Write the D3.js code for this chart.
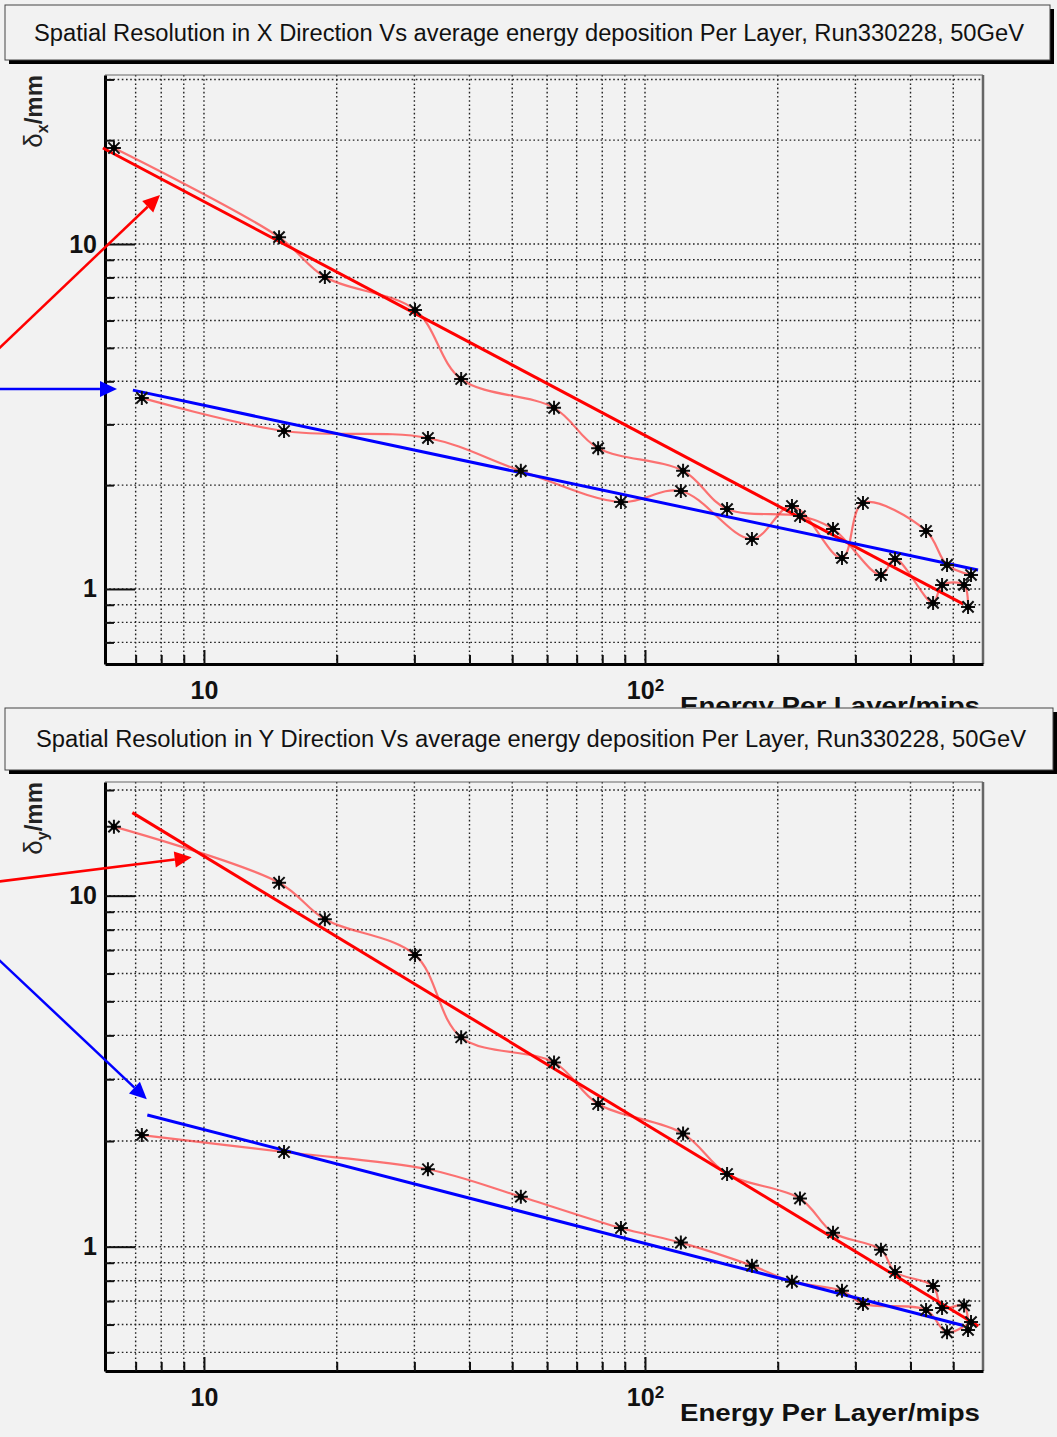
<!DOCTYPE html>
<html>
<head>
<meta charset="utf-8">
<script src="https://cdn.jsdelivr.net/npm/d3@7"></script>
<style>
  body { margin: 0; background: #f2f2f2; }
  svg { display: block; }
</style>
</head>
<body>
<svg id="chart" width="1057" height="1437"></svg>
<script>
// energy per layer (mips) of the two layer groups, same in both panels
var energyUpper = [6.25, 14.8, 18.8, 30.1, 38.3, 62.2, 78.3, 122, 153.5, 224.6, 266.9, 342.8, 368.9, 450, 471.6, 529, 540.1];
var energyLower = [7.23, 15.19, 32.2, 52.3, 88.2, 120.6, 174.8, 215.4, 279.7, 312.1, 433.8, 484, 548.6];

// resolution in X (mm)
var resXUpper = [18.98, 10.47, 8.02, 6.44, 4.06, 3.35, 2.56, 2.20, 1.705, 1.627, 1.493, 1.098, 1.222, 0.911, 1.027, 1.027, 0.887];
var resXLower = [3.58, 2.87, 2.74, 2.20, 1.787, 1.923, 1.396, 1.740, 1.230, 1.775, 1.473, 1.174, 1.098];

// resolution in Y (mm)
var resYUpper = [15.73, 10.89, 8.57, 6.78, 3.95, 3.35, 2.55, 2.10, 1.611, 1.372, 1.096, 0.980, 0.847, 0.773, 0.669, 0.680, 0.579];
var resYLower = [2.08, 1.861, 1.662, 1.388, 1.130, 1.027, 0.883, 0.795, 0.749, 0.687, 0.660, 0.570, 0.610];

// power-law fit lines, end points (energy, resolution)
var fitXRedE = [5.9, 526],  fitXRedR = [18.98, 0.905];
var fitXBlueE = [6.9, 569], fitXBlueR = [3.77, 1.135];
var fitYRedE = [6.88, 570], fitYRedR = [17.24, 0.594];
var fitYBlueE = [7.44, 527], fitYBlueR = [2.372, 0.596];

// annotation arrows (from, to) in data units
var arrowXRedE = [3.4, 7.95],  arrowXRedR = [4.93, 13.87];
var arrowXBlueE = [3.4, 6.35], arrowXBlueR = [3.80, 3.80];
var arrowYRedE = [3.4, 9.38],  arrowYRedR = [10.96, 12.86];
var arrowYBlueE = [3.4, 7.42], arrowYBlueR = [6.63, 2.63];

var xTicks = [7, 8, 9, 10, 20, 30, 40, 50, 60, 70, 80, 90, 100, 200, 300, 400, 500];
var yTicksX = [0.7, 0.8, 0.9, 1, 2, 3, 4, 5, 6, 7, 8, 9, 10, 20, 30];
var yTicksY = [0.5, 0.6, 0.7, 0.8, 0.9, 1, 2, 3, 4, 5, 6, 7, 8, 9, 10, 20];
var xDomain = [5.965, 584];

var titles = [
  "Spatial Resolution in X Direction Vs average energy deposition Per Layer, Run330228, 50GeV",
  "Spatial Resolution in Y Direction Vs average energy deposition Per Layer, Run330228, 50GeV"
];

var svg = d3.select("#chart");
svg.append("rect").attr("width", 1057).attr("height", 1437).attr("fill", "#f2f2f2");

var left = 105, right = 983;

function starPath(r) {
  var d = r * 0.8;
  return "M" + (-r) + ",0L" + r + ",0M0," + (-r) + "L0," + r +
         "M" + (-d) + "," + (-d) + "L" + d + "," + d + "M" + (-d) + "," + d + "L" + d + "," + (-d);
}

function titleBox(bx, by, bw, bh, text, tx) {
  svg.append("rect").attr("x", bx + 4).attr("y", by + 4).attr("width", bw).attr("height", bh).attr("fill", "#000");
  svg.append("rect").attr("x", bx).attr("y", by).attr("width", bw).attr("height", bh)
    .attr("fill", "#f2f2f2").attr("stroke", "#444").attr("stroke-width", 1);
  svg.append("text").attr("x", tx).attr("y", by + bh / 2 + 8)
    .attr("text-anchor", "middle")
    .attr("font-family", "'Liberation Sans Narrow', 'Arial Narrow', 'Liberation Sans', Arial, sans-serif")
    .attr("font-size", 23).attr("fill", "#111")
    .attr("textLength", 990).attr("lengthAdjust", "spacingAndGlyphs")
    .text(text);
}

function panel(cfg) {
  var x = d3.scaleLog().domain(xDomain).range([left, right]);
  var y = d3.scaleLog().domain(cfg.yDomain).range([cfg.bottom, cfg.top]);
  var g = svg.append("g");

  // grid
  g.append("g").selectAll("line").data(cfg.yTicks).join("line")
    .attr("x1", left).attr("x2", right)
    .attr("y1", function(d) { return y(d); }).attr("y2", function(d) { return y(d); })
    .attr("stroke", "#222").attr("stroke-width", 1.4).attr("stroke-dasharray", "1.6,2.6");
  g.append("g").selectAll("line").data(xTicks).join("line")
    .attr("y1", cfg.top).attr("y2", cfg.bottom)
    .attr("x1", function(d) { return x(d); }).attr("x2", function(d) { return x(d); })
    .attr("stroke", "#222").attr("stroke-width", 1.4).attr("stroke-dasharray", "1.6,2.6");

  // frame top / right
  g.append("line").attr("x1", left).attr("x2", right).attr("y1", cfg.top).attr("y2", cfg.top)
    .attr("stroke", "#666").attr("stroke-width", 1.2);
  g.append("line").attr("x1", right).attr("x2", right).attr("y1", cfg.top).attr("y2", cfg.bottom)
    .attr("stroke", "#666").attr("stroke-width", 2.5);

  var font = "'Liberation Sans', Arial, Helvetica, sans-serif";

  // x axis
  var gx = g.append("g").attr("transform", "translate(0," + cfg.bottom + ")")
    .call(d3.axisBottom(x).tickValues(xTicks).tickSizeInner(-9).tickSizeOuter(0).tickPadding(17)
      .tickFormat(function(d) { return (d === 10 || d === 100) ? "10" : ""; }));
  gx.select(".domain").attr("stroke", "#000").attr("stroke-width", 3);
  gx.selectAll(".tick line").attr("stroke", "#111").attr("stroke-width", 2);
  gx.selectAll(".tick").filter(function(d) { return d === 10 || d === 100; })
    .select("line").attr("y2", -14);
  gx.selectAll(".tick text").attr("font-family", font).attr("font-weight", "bold")
    .attr("font-size", 25).attr("fill", "#111");
  gx.selectAll(".tick").filter(function(d) { return d === 100; }).select("text")
    .append("tspan").attr("dy", "-0.45em").attr("font-size", 17).text("2");

  // y axis
  var gy = g.append("g").attr("transform", "translate(" + left + ",0)")
    .call(d3.axisLeft(y).tickValues(cfg.yTicks).tickSizeInner(-9).tickSizeOuter(0).tickPadding(8)
      .tickFormat(function(d) { return (d === 1 || d === 10) ? String(d) : ""; }));
  gy.select(".domain").attr("stroke", "#000").attr("stroke-width", 3);
  gy.selectAll(".tick line").attr("stroke", "#111").attr("stroke-width", 2);
  gy.selectAll(".tick").filter(function(d) { return d === 1 || d === 10; })
    .select("line").attr("x2", 30);
  gy.selectAll(".tick text").attr("font-family", font).attr("font-weight", "bold")
    .attr("font-size", 25).attr("fill", "#111");

  // y title
  var yt = g.append("text").attr("transform", "translate(42," + cfg.top + ") rotate(-90)")
    .attr("text-anchor", "end").attr("font-family", font).attr("font-weight", "bold")
    .attr("font-size", 24).attr("fill", "#222");
  yt.append("tspan").attr("font-weight", "normal").attr("font-size", 26).text("\u03b4");
  yt.append("tspan").attr("dy", 6).attr("font-size", 16).text(cfg.sub);
  yt.append("tspan").attr("dy", -6).text("/mm");

  // x title
  g.append("text").attr("x", 980).attr("y", cfg.bottom + 50).attr("text-anchor", "end")
    .attr("font-family", font).attr("font-weight", "bold").attr("font-size", 24).attr("fill", "#111")
    .attr("textLength", 300).attr("lengthAdjust", "spacingAndGlyphs")
    .text("Energy Per Layer/mips");

  // smooth curves through the points
  var curve = d3.line()
    .x(function(d) { return x(d[0]); }).y(function(d) { return y(d[1]); })
    .curve(d3.curveCatmullRom.alpha(0.5));
  var straight = d3.line()
    .x(function(d) { return x(d[0]); }).y(function(d) { return y(d[1]); });

  var series = [d3.zip(energyUpper, cfg.upper), d3.zip(energyLower, cfg.lower)];
  series.forEach(function(s) {
    g.append("path").attr("d", curve(s)).attr("fill", "none")
      .attr("stroke", "#ff3b3b").attr("stroke-opacity", 0.7).attr("stroke-width", 2.2);
  });

  // fit lines
  g.append("path").attr("d", straight(d3.zip(cfg.redE, cfg.redR))).attr("fill", "none")
    .attr("stroke", "#ff0000").attr("stroke-width", 3);
  g.append("path").attr("d", straight(d3.zip(cfg.blueE, cfg.blueR))).attr("fill", "none")
    .attr("stroke", "#0000ff").attr("stroke-width", 3);

  // markers
  series.forEach(function(s) {
    var m = g.append("g").selectAll("g").data(s).join("g")
      .attr("transform", function(d) { return "translate(" + x(d[0]) + "," + y(d[1]) + ")"; });
    m.append("path").attr("d", starPath(7)).attr("stroke", "#111").attr("stroke-width", 2).attr("fill", "none");
    m.append("circle").attr("r", 3).attr("fill", "#000");
  });

  // arrows
  [[cfg.aRedE, cfg.aRedR, "#ff0000"], [cfg.aBlueE, cfg.aBlueR, "#0000ff"]].forEach(function(a) {
    var x0 = x(a[0][0]), y0 = y(a[1][0]), x1 = x(a[0][1]), y1 = y(a[1][1]);
    var dx = x1 - x0, dy = y1 - y0, L = Math.sqrt(dx * dx + dy * dy);
    var ux = dx / L, uy = dy / L, hl = 17, hw = 8;
    var bx = x1 - ux * hl, by = y1 - uy * hl;
    g.append("line").attr("x1", x0).attr("y1", y0).attr("x2", bx).attr("y2", by)
      .attr("stroke", a[2]).attr("stroke-width", 2.5);
    g.append("path")
      .attr("d", "M" + x1 + "," + y1 + "L" + (bx - uy * hw) + "," + (by + ux * hw) +
                 "L" + (bx + uy * hw) + "," + (by - ux * hw) + "Z")
      .attr("fill", a[2]);
  });
}

titleBox(5, 5, 1045, 55, titles[0], 529);

panel({
  top: 75, bottom: 664, yDomain: [0.606, 30.9], yTicks: yTicksX, sub: "x",
  upper: resXUpper, lower: resXLower,
  redE: fitXRedE, redR: fitXRedR, blueE: fitXBlueE, blueR: fitXBlueR,
  aRedE: arrowXRedE, aRedR: arrowXRedR, aBlueE: arrowXBlueE, aBlueR: arrowXBlueR
});

titleBox(5, 708, 1048, 62, titles[1], 531);

panel({
  top: 782, bottom: 1371, yDomain: [0.4424, 21.08], yTicks: yTicksY, sub: "y",
  upper: resYUpper, lower: resYLower,
  redE: fitYRedE, redR: fitYRedR, blueE: fitYBlueE, blueR: fitYBlueR,
  aRedE: arrowYRedE, aRedR: arrowYRedR, aBlueE: arrowYBlueE, aBlueR: arrowYBlueR
});
</script>
</body>
</html>
